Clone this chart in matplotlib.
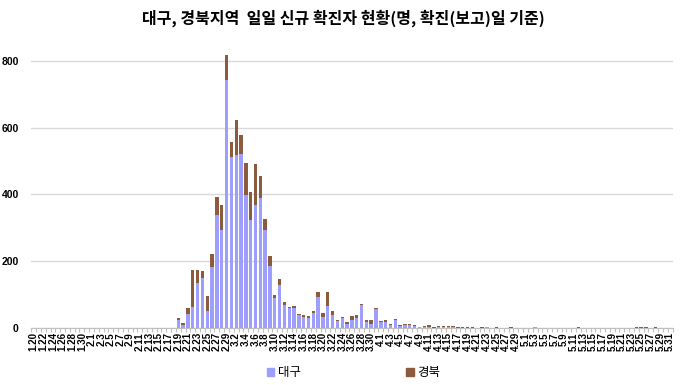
import numpy as np
import pandas as pd
import matplotlib
matplotlib.use('Agg')
from matplotlib import pyplot as plt
from matplotlib.patches import Patch

plt.rcParams['font.family'] = ['Noto Sans CJK KR', 'DejaVu Sans']

# 일자 (2020.1.20 ~ 5.31)
dates = pd.date_range('2020-01-20', '2020-05-31')
labels = [f'{d.month}.{d.day}' for d in dates]

# 대구 일일 신규 확진자
daegu_jan = [0] * 12
daegu_feb = [0] * 18 + [24, 10, 42, 64, 136, 151, 52, 182, 340, 295, 742]
daegu_mar = [512, 517, 520, 397, 325, 368, 390, 295, 187, 91, 129, 69, 60, 61, 39, 32,
             31, 45, 94, 32, 67, 39, 20, 29, 13, 24, 31, 68, 19, 12, 57]
daegu_apr = [17, 19, 8, 24, 7, 9, 9, 7, 3, 4, 4, 1, 2, 2, 2, 3,
             0, 0, 0, 0, 0, 0, 2, 0, 0, 0, 0, 0, 0, 0]
daegu_may = [0, 0, 2] + [0] * 28

# 경북 일일 신규 확진자
gb_jan = [0] * 12
gb_feb = [0] * 18 + [5, 5, 17, 110, 38, 19, 44, 39, 53, 75, 76]
gb_mar = [46, 106, 59, 96, 83, 123, 65, 32, 28, 9, 17, 8, 4, 4, 2, 7,
          4, 7, 13, 13, 40, 13, 4, 3, 5, 11, 9, 3, 4, 11, 3]
gb_apr = [4, 4, 5, 3, 3, 3, 3, 3, 0, 2, 4, 3, 3, 3, 3, 2,
          3, 3, 3, 2, 0, 2, 0, 0, 2, 0, 0, 2, 0, 0]
gb_may = [0] * 11 + [2] + [0] * 11 + [3, 2, 2, 0, 2, 0, 0, 0]

daegu = np.array(daegu_jan + daegu_feb + daegu_mar + daegu_apr + daegu_may)
gyeongbuk = np.array(gb_jan + gb_feb + gb_mar + gb_apr + gb_may)

c_daegu = '#9E9EFF'
c_gb = '#8C5B3E'

fig = plt.figure(figsize=(6.8, 3.85), dpi=100)
ax = fig.add_axes([0.046, 0.148, 0.943, 0.763])

x = np.arange(len(dates))
ax.bar(x, daegu, width=0.7, color=c_daegu, zorder=3)
ax.bar(x, gyeongbuk, width=0.7, bottom=daegu, color=c_gb, zorder=3)

ax.set_xlim(-0.5, len(dates) - 0.5)
ax.set_ylim(0, 880)
ax.set_yticks([0, 200, 400, 600, 800])
ax.yaxis.grid(True, color='#D9D9D9', linewidth=1.0, zorder=0)
ax.set_axisbelow(True)

ax.set_xticks(x[::2])
ax.set_xticklabels(labels[::2], rotation=90, family='Liberation Sans',
                   fontweight='bold', fontsize=7)
ax.set_xticks(np.arange(len(dates) + 1) - 0.5, minor=True)
ax.tick_params(axis='x', which='major', length=0, pad=3)
ax.tick_params(axis='x', which='minor', length=3, color='#BFBFBF', width=0.8)
ax.tick_params(axis='y', length=0, pad=9)
for t in ax.get_yticklabels():
    t.set_family('Liberation Sans')
    t.set_fontweight('bold')
    t.set_fontsize(7.5)

for s in ['top', 'right', 'left']:
    ax.spines[s].set_visible(False)
ax.spines['bottom'].set_color('#BFBFBF')
ax.spines['bottom'].set_linewidth(0.8)

fig.suptitle('대구, 경북지역  일일 신규 확진자 현황(명, 확진(보고)일 기준)',
             fontsize=11.5, fontweight='bold', x=0.505, y=0.975)

handles = [Patch(color=c_daegu, label='대구'), Patch(color=c_gb, label='경북')]
fig.legend(handles=handles, loc='center', bbox_to_anchor=(0.52, 0.032), ncol=2,
           frameon=False, fontsize=9, handlelength=0.6, handleheight=0.6,
           handletextpad=0.3, columnspacing=8.4)

fig.savefig('out.png', dpi=100)
